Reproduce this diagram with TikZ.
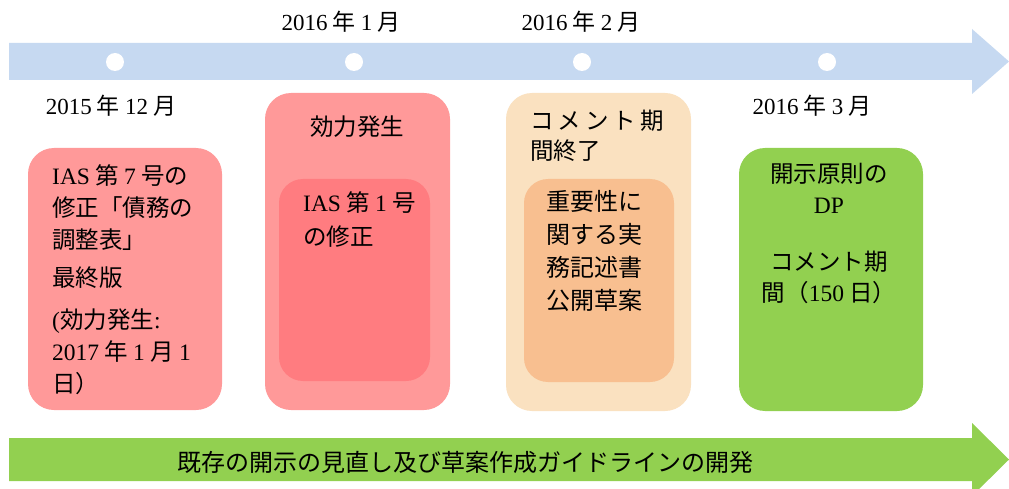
\documentclass[tikz,border=0pt]{standalone}
\usepackage{fontspec}
\setmainfont{Noto Sans CJK JP}
\newfontfamily\lat{Liberation Serif}
\definecolor{tlblue}{HTML}{C6D9F1}
\definecolor{pinkA}{HTML}{FF9999}
\definecolor{redB}{HTML}{FF7C80}
\definecolor{peachA}{HTML}{FAE1C0}
\definecolor{orangeB}{HTML}{F8BF90}
\definecolor{greenA}{HTML}{92D050}
\begin{document}
\begin{tikzpicture}[x=1pt,y=-1pt,
  panel/.style={rounded corners=26pt, inner sep=0pt, draw=none},
  txt/.style={inner sep=0pt, align=left, text=black, font=\fontsize{23.5}{32}\selectfont},
  datelbl/.style={inner sep=0pt, text=black, font=\fontsize{23}{26}\selectfont}]
\useasboundingbox (0,0) rectangle (1009,489);
\fill[white] (0,0) rectangle (1009,489);
% top timeline arrow
\fill[tlblue] (9,43) -- (972,43) -- (972,29) -- (1009,61.5) -- (972,94) -- (972,80) -- (9,80) -- cycle;
\fill[white] (115,62) circle (9);
\fill[white] (354,62) circle (9);
\fill[white] (582,62) circle (9);
\fill[white] (827,62) circle (9);
% dates
\node[datelbl] (d1) at (341,22) {{\lat 2016} 年 {\lat 1} 月};
\node[datelbl] (d2) at (581,22) {{\lat 2016} 年 {\lat 2} 月};
\node[datelbl] (d0) at (111,106) {{\lat 2015} 年 {\lat 12} 月};
\node[datelbl] (d3) at (812,106) {{\lat 2016} 年 {\lat 3} 月};
% panels
\node[panel, fill=pinkA, minimum width=194pt, minimum height=262pt] (b1) at (125,279) {};
\node[panel, fill=pinkA, minimum width=185pt, minimum height=317pt] (b2) at (357.5,251.5) {};
\node[panel, fill=redB, rounded corners=24pt, minimum width=151pt, minimum height=202pt] (b2i) at (354.5,280) {};
\node[panel, fill=peachA, minimum width=185pt, minimum height=318pt] (b3) at (598.5,252) {};
\node[panel, fill=orangeB, rounded corners=24pt, minimum width=150pt, minimum height=203pt] (b3i) at (599,280.5) {};
\node[panel, fill=greenA, minimum width=184pt, minimum height=263pt] (b4) at (831,279.5) {};
% panel texts
\node[txt, anchor=north west] (t1) at (52,164) {{\lat IAS} 第 {\lat 7} 号の\\修正「債務の\\調整表」\\[6pt]最終版\\[10pt]{\lat (}効力発生{\lat :}\\{\lat 2017} 年 {\lat 1} 月 {\lat 1}\\日）};
\node[txt] (t2) at (357,127) {効力発生};
\node[txt, anchor=north west, font=\fontsize{23.5}{34}\selectfont] (t2i) at (303,191) {{\lat IAS} 第 {\lat 1} 号\\の修正};
\node[txt, anchor=north west, font=\fontsize{23.5}{30}\selectfont] (t3) at (530,110) {コ\hspace{4pt}メ\hspace{4pt}ン\hspace{4pt}ト\hspace{4pt}期\\間終了};
\node[txt, anchor=north west, font=\fontsize{24}{33}\selectfont] (t3i) at (546,190) {重要性に\\関する実\\務記述書\\公開草案};
\node[txt, anchor=north, align=center, font=\fontsize{23.5}{31}\selectfont] (t4) at (829,163) {開示原則の\\{\lat DP}\\[26pt]コメント期\\間（{\lat 150} 日）};
% bottom arrow
\fill[greenA] (9,438) -- (972,438) -- (972,423) -- (1009,459.5) -- (972,496) -- (972,481) -- (9,481) -- cycle;
\node[txt, font=\fontsize{24}{28}\selectfont] (bt) at (465,462) {既存の開示の見直し及び草案作成ガイドラインの開発};
\end{tikzpicture}
\end{document}
